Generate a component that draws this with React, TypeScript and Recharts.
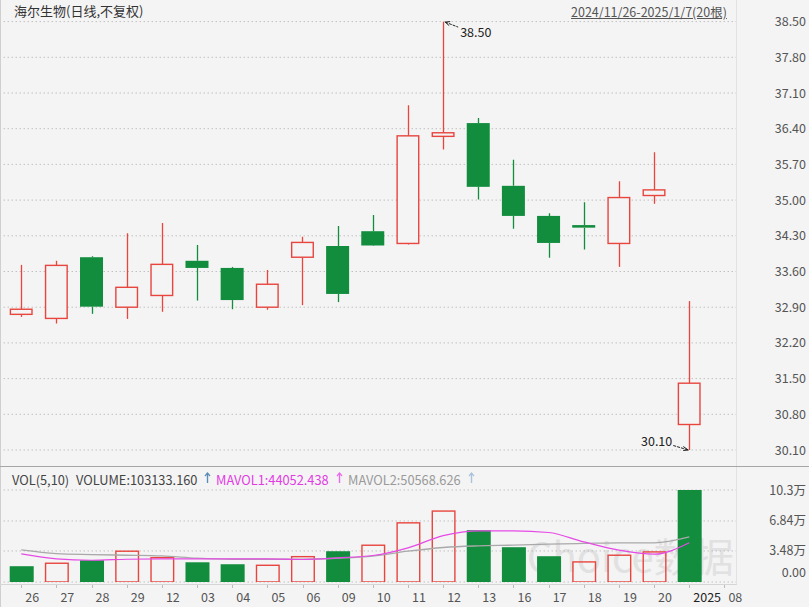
import React from 'react';
import { ComposedChart, Bar, Line, XAxis, YAxis, CartesianGrid, ReferenceDot } from 'recharts';

// x-axis labels (last slot is empty)
const tickLabels = ['26', '27', '28', '29', '12', '03', '04', '05', '06', '09', '10', '11', '12', '13', '16', '17', '18', '19', '20', '2025', '08'];

const openP = [32.76, 32.68, 33.88, 32.9, 33.13, 33.81, 33.67, 32.9, 33.88, 34.1, 34.39, 34.15, 36.25, 36.51, 35.28, 34.69, 34.51, 34.15, 35.09, 30.6];
const highP = [33.73, 33.81, 33.9, 34.35, 34.55, 34.12, 33.69, 33.63, 34.28, 34.49, 34.71, 36.86, 38.5, 36.61, 35.79, 34.74, 34.96, 35.37, 35.94, 33.02];
const lowP = [32.71, 32.58, 32.77, 32.67, 32.81, 33.03, 32.86, 32.85, 32.94, 33.0, 34.1, 34.13, 35.99, 35.01, 34.44, 33.87, 34.03, 33.69, 34.93, 30.1];
const closeP = [32.86, 33.72, 32.91, 33.29, 33.74, 33.67, 33.04, 33.35, 34.17, 33.16, 34.11, 36.26, 36.32, 35.26, 34.69, 34.16, 34.46, 35.05, 35.2, 31.41];

const volume = [17700, 21800, 24400, 35300, 28100, 22100, 19900, 19500, 29200, 34500, 42000, 67100, 80300, 58100, 39000, 28900, 23300, 30800, 34500, 103133];
const mavol1 = [31500, 25900, 24400, 25500, 25900, 25900, 25900, 25900, 25200, 27000, 29700, 38300, 52000, 57400, 57400, 55500, 45000, 35700, 31200, 44052];
const mavol2 = [36000, 31900, 30800, 30000, 29200, 26700, 25500, 25500, 25500, 26700, 29000, 34500, 38700, 40500, 41300, 42400, 43200, 43900, 43900, 50569];

const priceTicks = [30.1, 30.8, 31.5, 32.2, 32.9, 33.6, 34.3, 35.0, 35.7, 36.4, 37.1, 37.8, 38.5];
const volTicks = [0, 34800, 68400, 103133];
const volTickLabels = ['0.00', '3.48万', '6.84万', '10.3万'];

const PREV_CLOSE = 33.0;

const RED = '#e8453e';
const GREEN = '#118d3d';
const BG = '#f4f4f4';
const FONT = '"Noto Sans CJK SC", "Noto Sans", sans-serif';
const W = 809;
const MARGIN_L = 3.7;
const AXIS_W = 67;
const BAR = 23;

const data = tickLabels.map((label, i) => {
  if (i >= closeP.length) return { key: String(i), label };
  const prev = i === 0 ? PREV_CLOSE : closeP[i - 1];
  return {
    key: String(i),
    label,
    open: openP[i],
    high: highP[i],
    low: lowP[i],
    close: closeP[i],
    vol: volume[i],
    volUp: closeP[i] > prev,
    ma1: mavol1[i],
    ma2: mavol2[i],
  };
});

const Candle = (props: any) => {
  const { x, y, width, height, payload } = props;
  if (!payload || payload.open == null) return null;
  const { open: o, close: c, high: h, low: l } = payload;
  const top = Math.min(y, y + height);
  const span = Math.abs(height);
  const k = span / (h - l);
  const py = (v: number) => top + (h - v) * k;
  const up = c >= o;
  const color = up ? RED : GREEN;
  const cx = Math.round(x + width / 2) + 0.5;
  const bTop = py(Math.max(o, c));
  const bh = Math.max(py(Math.min(o, c)) - bTop, 2);
  return (
    <g>
      <line x1={cx} x2={cx} y1={top} y2={bTop} stroke={color} strokeWidth={1.3} />
      <line x1={cx} x2={cx} y1={bTop + bh} y2={top + span} stroke={color} strokeWidth={1.3} />
      {up ? (
        <rect x={x + 0.7} y={bTop} width={width - 1.4} height={bh} fill={BG} stroke={color} strokeWidth={1.4} />
      ) : (
        <rect x={x} y={bTop} width={width} height={bh} fill={color} />
      )}
    </g>
  );
};

const VolBar = (props: any) => {
  const { x, y, width, height, payload } = props;
  if (!payload || payload.vol == null) return null;
  if (payload.volUp) {
    return <rect x={x + 0.7} y={y + 0.7} width={width - 1.4} height={height - 0.7} fill="none" stroke={RED} strokeWidth={1.4} />;
  }
  return <rect x={x} y={y} width={width} height={height} fill={GREEN} />;
};

const PriceTick = ({ y, payload }: any) => (
  <text x={806} y={y} dy={4.5} textAnchor="end" fontSize={12.5} fill="#555" fontFamily={FONT}>
    {Number(payload.value).toFixed(2)}
  </text>
);

const VolTick = ({ y, payload }: any) => {
  const idx = volTicks.indexOf(payload.value);
  return (
    <text x={806} y={idx === 0 ? y - 10 : y} dy={4.5} textAnchor="end" fontSize={12.5} fill="#555" fontFamily={FONT}>
      {volTickLabels[idx]}
    </text>
  );
};

const XTick = ({ x, y, payload }: any) => {
  const label = tickLabels[Number(payload.value)];
  return (
    <g>
      <line x1={Math.round(x) + 0.5} x2={Math.round(x) + 0.5} y1={y + 2} y2={y + 6} stroke="#bbb" />
      <text x={x + 4} y={y + 20} fontSize={12.5} fill={label === '2025' ? '#222' : '#555'} fontFamily={FONT}>
        {label}
      </text>
    </g>
  );
};

const HighMark = ({ cx, cy }: any) => (
  <g>
    <line x1={cx + 2} y1={cy + 0.5} x2={cx + 15} y2={cy + 5.5} stroke="#222" strokeDasharray="3 1" />
    <polyline points={`${cx + 7},${cy} ${cx + 2},${cy + 0.5} ${cx + 6},${cy + 4}`} fill="none" stroke="#222" />
    <text x={cx + 17} y={cy + 15} fontSize={12.5} fill="#222" fontFamily={FONT}>38.50</text>
  </g>
);

const LowMark = ({ cx, cy }: any) => (
  <g>
    <line x1={cx - 16} y1={cy - 4.5} x2={cx - 1} y2={cy} stroke="#222" strokeDasharray="3 1" />
    <polyline points={`${cx - 6},${cy - 3.5} ${cx - 1},${cy} ${cx - 6},${cy + 0.5}`} fill="none" stroke="#222" />
    <text x={cx - 17} y={cy - 4.5} textAnchor="end" fontSize={12.5} fill="#222" fontFamily={FONT}>30.10</text>
  </g>
);

const abs = (style: React.CSSProperties): React.CSSProperties => ({ position: 'absolute', ...style });

// thin up-arrow used in the volume legend
const UpArrow = ({ left, color }: { left: number; color: string }) => (
  <svg style={abs({ left, top: 472 })} width={7} height={12}>
    <line x1={3.5} y1={1} x2={3.5} y2={11} stroke={color} strokeWidth={1.4} />
    <polyline points="1,4 3.5,1 6,4" fill="none" stroke={color} strokeWidth={1.2} />
  </svg>
);

const legendText: React.CSSProperties = { fontSize: 12.8, whiteSpace: 'nowrap', top: 470 };

export default function App() {
  return (
    <div style={{ position: 'fixed', left: 0, top: 0, width: W, height: 607, background: BG, overflow: 'hidden', fontFamily: FONT }}>
      <div style={abs({ left: 527, top: 526, fontSize: 40, color: '#e1e1e1', whiteSpace: 'nowrap' })}>Choice数据</div>

      <div style={abs({ left: 0, top: 0 })}>
        <ComposedChart width={W} height={466} data={data} margin={{ top: 21.6, right: 0, bottom: 16, left: MARGIN_L }}>
          <CartesianGrid vertical={false} stroke="#a8a8a8" strokeDasharray="1 3" />
          <XAxis dataKey="key" hide height={0} />
          <YAxis
            orientation="right"
            width={AXIS_W}
            domain={[30.1, 38.5]}
            ticks={priceTicks}
            allowDataOverflow
            axisLine={false}
            tickLine={false}
            tick={<PriceTick />}
          />
          <Bar
            dataKey={(d: any) => (d.high == null ? null : [d.low, d.high])}
            barSize={BAR}
            shape={<Candle />}
            isAnimationActive={false}
          />
          <ReferenceDot x="12" y={38.5} ifOverflow="visible" shape={<HighMark />} />
          <ReferenceDot x="19" y={30.1} ifOverflow="visible" shape={<LowMark />} />
        </ComposedChart>
      </div>

      <div style={abs({ left: 0, top: 467 })}>
        <ComposedChart width={W} height={140} data={data} margin={{ top: 23, right: 0, bottom: 0, left: MARGIN_L }}>
          <CartesianGrid vertical={false} stroke="#a8a8a8" strokeDasharray="1 3" />
          <XAxis
            dataKey="key"
            height={25}
            interval={0}
            axisLine={false}
            tickLine={false}
            tickSize={0}
            tickMargin={0}
            tick={<XTick />}
          />
          <YAxis
            orientation="right"
            width={AXIS_W}
            domain={[0, 103133]}
            ticks={volTicks}
            allowDataOverflow
            axisLine={false}
            tickLine={false}
            tick={<VolTick />}
          />
          <Bar dataKey="vol" barSize={24} shape={<VolBar />} isAnimationActive={false} />
          <Line type="monotone" dataKey="ma2" stroke="#a9a9a9" strokeWidth={1.3} dot={false} isAnimationActive={false} />
          <Line type="monotone" dataKey="ma1" stroke="#e64ae6" strokeWidth={1.2} dot={false} isAnimationActive={false} />
        </ComposedChart>
      </div>

      {/* right axis area mask and separators */}
      <div style={abs({ left: 736, top: 0, width: 10, height: 585, background: BG, borderLeft: '1px solid #e2e2e2' })} />
      <div style={abs({ left: 0, top: 0, width: 1, height: 607, background: '#cfcfcf' })} />
      <div style={abs({ left: 0, top: 466, width: W, height: 1, background: '#a6a6a6' })} />
      <div style={abs({ left: 0, top: 584, width: 737, height: 1, background: '#d6d6d6' })} />

      {/* title row */}
      <div style={abs({ left: 14, top: 1, fontSize: 13, color: '#333', whiteSpace: 'nowrap' })}>海尔生物(日线,不复权)</div>
      <div style={abs({ left: 571, top: 2, fontSize: 12.5, color: '#555', textDecoration: 'underline', whiteSpace: 'nowrap' })}>
        2024/11/26-2025/1/7(20根)
      </div>

      {/* volume legend */}
      <div style={abs({ ...legendText, left: 12, color: '#444' })}>VOL(5,10)</div>
      <div style={abs({ ...legendText, left: 76, color: '#444' })}>VOLUME:103133.160</div>
      <UpArrow left={204} color="#5b8db6" />
      <div style={abs({ ...legendText, left: 216, color: '#e33be3' })}>MAVOL1:44052.438</div>
      <UpArrow left={336} color="#e86be8" />
      <div style={abs({ ...legendText, left: 348, color: '#9a9a9a' })}>MAVOL2:50568.626</div>
      <UpArrow left={468} color="#a9c3dc" />
    </div>
  );
}
